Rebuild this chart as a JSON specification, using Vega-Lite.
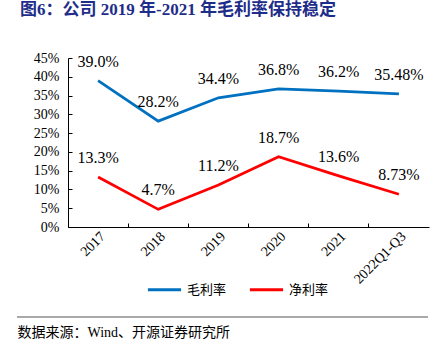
{
  "$schema": "https://vega.github.io/schema/vega-lite/v6.json",
  "autosize": "none",
  "width": 361,
  "height": 169,
  "padding": {"left": 68, "top": 58, "right": 18, "bottom": 125},
  "background": "white",
  "title": {
    "text": "图6：公司 2019 年-2021 年毛利率保持稳定",
    "anchor": "start",
    "frame": "group",
    "dx": -48,
    "offset": 32,
    "font": "Times New Roman, Liberation Serif, Noto Sans CJK SC",
    "fontSize": 17,
    "fontWeight": "bold",
    "color": "#1F2D8A"
  },
  "config": {"view": {"stroke": null}},
  "data": {
    "values": [
      {"cat": "2017", "series": "毛利率", "v": 0.39, "label": "39.0%"},
      {"cat": "2018", "series": "毛利率", "v": 0.282, "label": "28.2%"},
      {"cat": "2019", "series": "毛利率", "v": 0.344, "label": "34.4%"},
      {"cat": "2020", "series": "毛利率", "v": 0.368, "label": "36.8%"},
      {"cat": "2021", "series": "毛利率", "v": 0.362, "label": "36.2%"},
      {"cat": "2022Q1-Q3", "series": "毛利率", "v": 0.3548, "label": "35.48%"},
      {"cat": "2017", "series": "净利率", "v": 0.133, "label": "13.3%"},
      {"cat": "2018", "series": "净利率", "v": 0.047, "label": "4.7%"},
      {"cat": "2019", "series": "净利率", "v": 0.112, "label": "11.2%"},
      {"cat": "2020", "series": "净利率", "v": 0.187, "label": "18.7%"},
      {"cat": "2021", "series": "净利率", "v": 0.136, "label": "13.6%"},
      {"cat": "2022Q1-Q3", "series": "净利率", "v": 0.0873, "label": "8.73%"}
    ]
  },
  "encoding": {
    "x": {
      "field": "cat", "type": "nominal", "sort": null,
      "scale": {"type": "band", "paddingInner": 0, "paddingOuter": 0},
      "axis": {
        "title": "数据来源：Wind、开源证券研究所",
        "titleAnchor": "start", "titleAlign": "left", "titleX": -51, "titleY": 105,
        "titleBaseline": "middle",
        "titleFont": "Times New Roman, Liberation Serif, Noto Sans CJK SC",
        "titleFontSize": 14, "titleFontWeight": "normal", "titleColor": "black",
        "labelAngle": -45,
        "labelFont": "Times New Roman, Liberation Serif",
        "labelFontSize": 14, "labelColor": "black",
        "bandPosition": 0,
        "tickSize": -4, "tickColor": "black", "domainColor": "black",
        "labelPadding": 6
      }
    },
    "y": {
      "field": "v", "type": "quantitative",
      "scale": {"domain": [0, 0.45], "nice": false},
      "axis": {
        "title": null,
        "values": [0, 0.05, 0.1, 0.15, 0.2, 0.25, 0.3, 0.35, 0.4, 0.45],
        "format": ".0%", "grid": false, "labelOverlap": false,
        "tickSize": -4, "tickColor": "black", "domainColor": "black",
        "labelFont": "Times New Roman, Liberation Serif",
        "labelFontSize": 14, "labelColor": "black", "labelPadding": 13
      }
    }
  },
  "layer": [
    {
      "mark": {"type": "line", "strokeWidth": 2.75},
      "encoding": {
        "color": {
          "field": "series", "type": "nominal",
          "scale": {"domain": ["毛利率", "净利率"], "range": ["#0070C0", "#FF0000"]},
          "legend": {
            "orient": "none", "legendX": 78, "legendY": 213,
            "direction": "horizontal", "title": null,
            "symbolType": "stroke", "symbolSize": 1100, "symbolStrokeWidth": 3,
            "labelFont": "Noto Sans CJK SC", "labelFontSize": 13, "labelColor": "black",
            "columnPadding": 16, "padding": 0, "labelOffset": 4
          }
        }
      }
    },
    {
      "mark": {"type": "text", "dy": -19, "fontSize": 16, "font": "Times New Roman, Liberation Serif", "color": "black", "baseline": "middle"},
      "encoding": {
        "text": {"field": "label"}
      }
    },
    {
      "data": {"values": [{}]},
      "mark": {"type": "rule", "stroke": "#8C8C8C", "strokeWidth": 1.5},
      "encoding": {
        "x": {"value": -51},
        "x2": {"value": 360},
        "y": {"value": 259}
      }
    }
  ]
}
